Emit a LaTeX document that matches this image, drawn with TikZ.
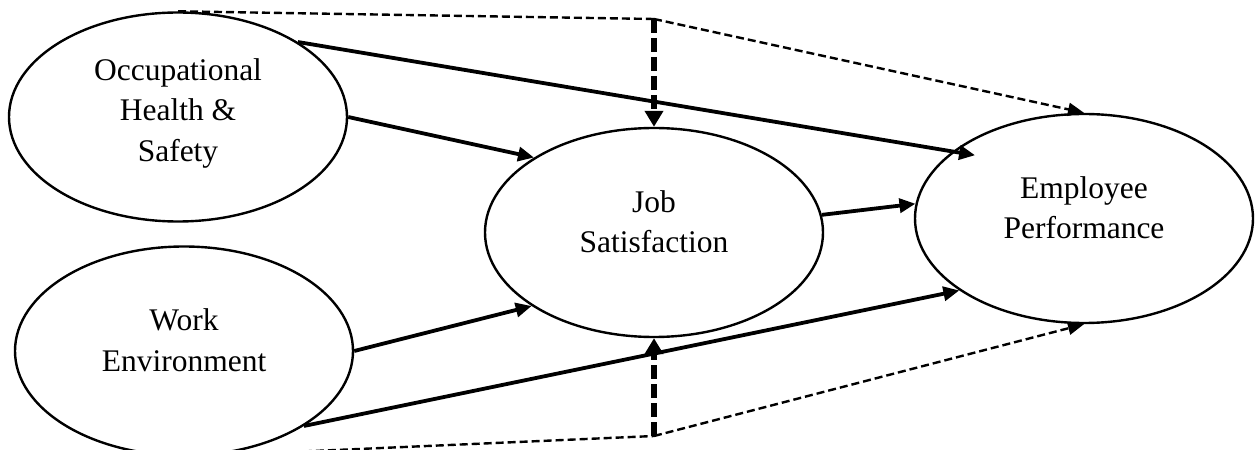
\documentclass[tikz,border=0pt]{standalone}
\usepackage{fontspec}
\setmainfont{Liberation Serif}
\usetikzlibrary{shapes.geometric,arrows.meta}
\begin{document}
\begin{tikzpicture}[x=1pt,y=1pt,
  ell/.style={ellipse, draw, line width=2.4pt, minimum width=338pt, minimum height=209pt, inner sep=0pt},
  txt/.style={align=center, inner sep=0pt, font=\fontsize{31.5}{40.5}\selectfont},
  solidarrow/.style={line width=3.8pt, -{Triangle[length=16pt,width=14pt]}},
  thindash/.style={line width=2.4pt, dash pattern=on 8pt off 4pt},
  thindasharrow/.style={thindash, -{Triangle[length=16pt,width=13pt]}},
  thickdasharrow/.style={line width=6.5pt, dash pattern=on 14pt off 5pt, -{Triangle[length=16pt,width=18pt]}}
]
\useasboundingbox (0,0) rectangle (1259,450);
% ellipses
\node[ell] (ohs) at (178,333) {};
\node[ell] (we)  at (184,99) {};
\node[ell] (js)  at (654,217.5) {};
\node[ell] (ep)  at (1084,231.5) {};
% texts
\node[txt] (ohst) at ([yshift=4pt]ohs.center) {Occupational\\Health \&\\Safety};
\node[txt] (wet)  at ([yshift=11pt]we.center) {Work\\Environment};
\node[txt] (jst)  at ([yshift=11pt]js.center) {Job\\Satisfaction};
\node[txt] (ept)  at ([yshift=11pt]ep.center) {Employee\\Performance};
% junctions
\coordinate (tj) at (654,431);
\coordinate (bj) at (654,14);
% dashed moderation lines
\draw[thindash] (ohs.north) -- (tj);
\draw[thindasharrow] (tj) -- (ep.north);
\draw[thindash] (we.south) -- (bj);
\draw[thindasharrow] (bj) -- (ep.south);
\draw[thickdasharrow] (tj) -- (js.north);
\draw[thickdasharrow] (bj) -- (js.south);
% solid paths
\draw[solidarrow, shorten >=-23pt] (ohs.32) -- (ep.153.6);
\draw[solidarrow] (ohs.east) -- (js.148.4);
\draw[solidarrow] (we.east) -- (js.211.6);
\draw[solidarrow] (we.-32) -- (ep.210.6);
\draw[solidarrow] (js.6.6) -- (ep.175);
\end{tikzpicture}
\end{document}
